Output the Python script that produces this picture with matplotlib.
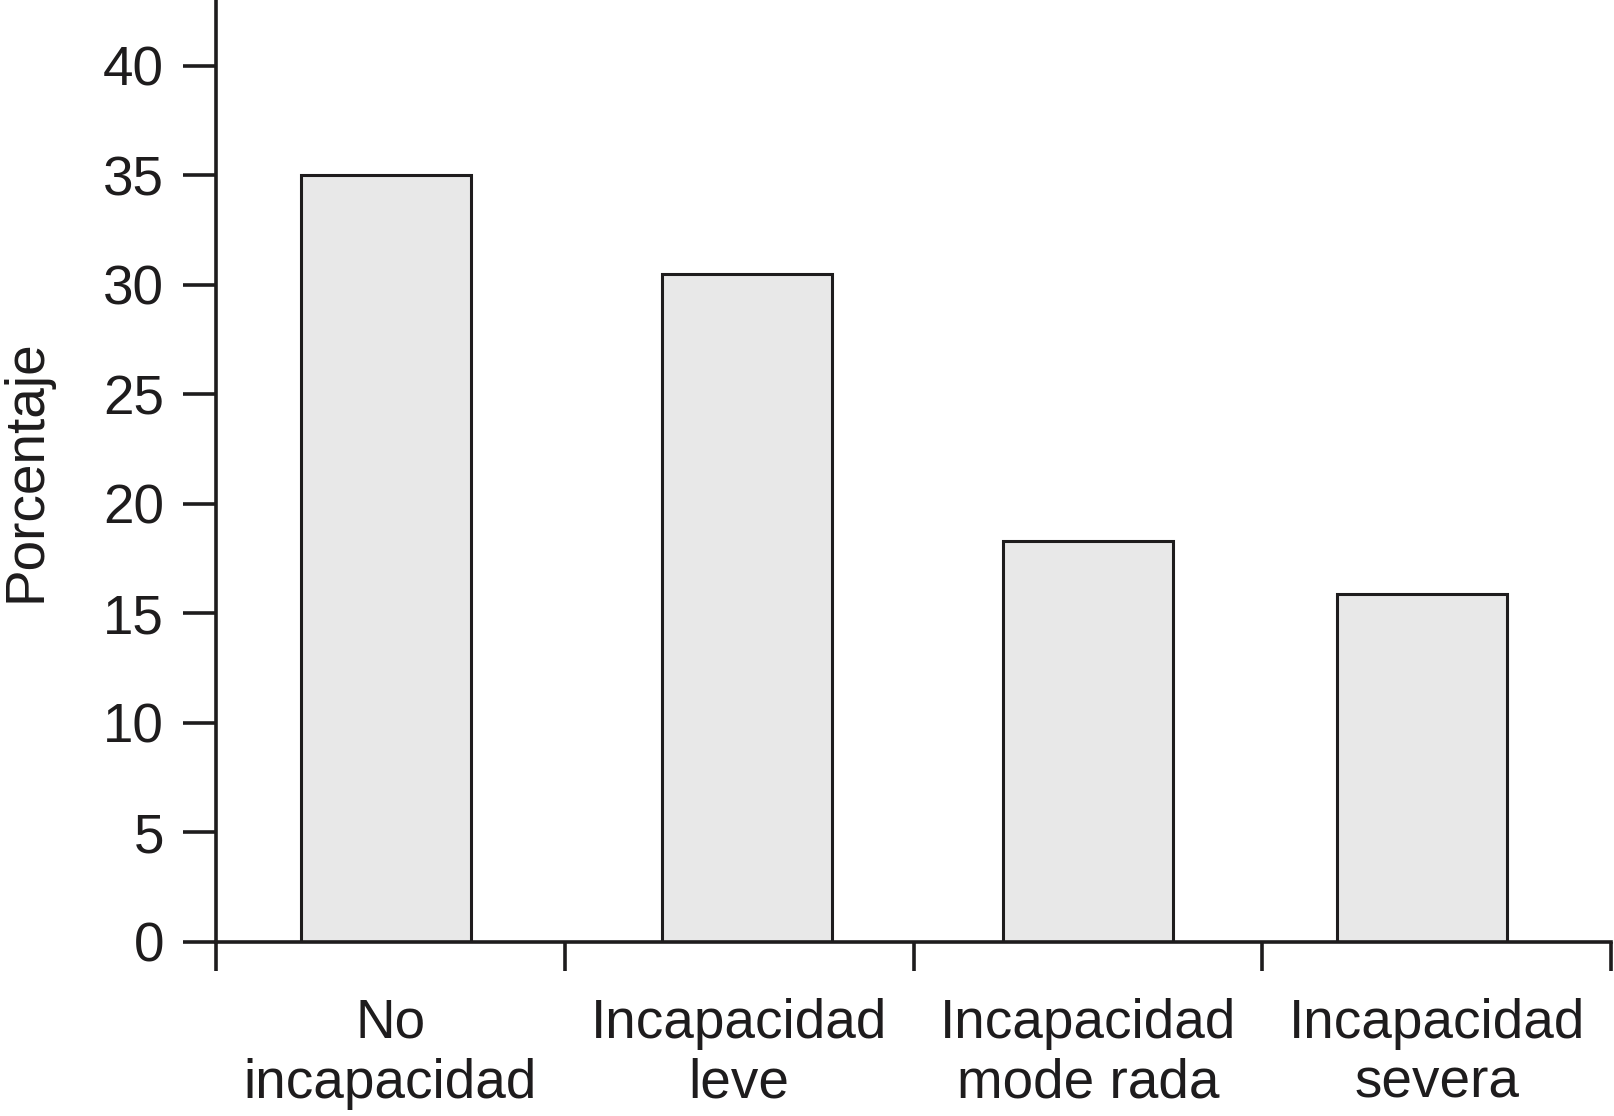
import matplotlib
matplotlib.use("Agg")
import matplotlib.pyplot as plt
import numpy as np

categories = ["No\nincapacidad", "Incapacidad\nleve", "Incapacidad\nmode rada", "Incapacidad\nsevera"]
values = [35.0, 30.5, 18.3, 15.9]
yticks = [0, 5, 10, 15, 20, 25, 30, 35, 40]

# layout: slight horizontal shifts of bars within their category slots
bar_shift = [-0.012, 0.022, 0.0, -0.041]

plt.rcParams['font.family'] = ['Liberation Sans', 'DejaVu Sans']
ink = '#1e1c1d'

fig = plt.figure(figsize=(16.14, 11.16), dpi=100)
ax = fig.add_axes([216/1614, 1 - 942/1116, (1611-216)/1614, 942/1116])

x = np.arange(len(categories))
ax.bar(x + np.array(bar_shift), values, width=0.487, color='#e8e8e8',
       edgecolor=ink, linewidth=2.2, zorder=2)

ax.set_xlim(-0.5, len(categories) - 0.5)
ax.set_ylim(0, 43)

ax.spines['top'].set_visible(False)
ax.spines['right'].set_visible(False)
for s in ['left', 'bottom']:
    ax.spines[s].set_linewidth(2.6)
    ax.spines[s].set_color(ink)
    ax.spines[s].set_zorder(3)

ax.set_yticks(yticks)
ax.set_yticklabels([str(v) for v in yticks])
ax.tick_params(axis='y', length=23.5, width=2.6, color=ink, labelcolor=ink, labelsize=39.5, pad=14)

# category boundaries as ticks, labels centred in intervals
ax.set_xticks(np.arange(len(categories) + 1) - 0.5)
ax.set_xticklabels([])
ax.set_xticks(x, minor=True)
ax.set_xticklabels(categories, minor=True, linespacing=1.2)
ax.tick_params(axis='x', which='major', length=21, width=2.6, color=ink)
ax.tick_params(axis='x', which='minor', length=0, labelsize=39.5, labelcolor=ink, pad=40)

ax.set_ylabel("Porcentaje", fontsize=39.5, color=ink, labelpad=36)

fig.savefig("out.png", dpi=100)
